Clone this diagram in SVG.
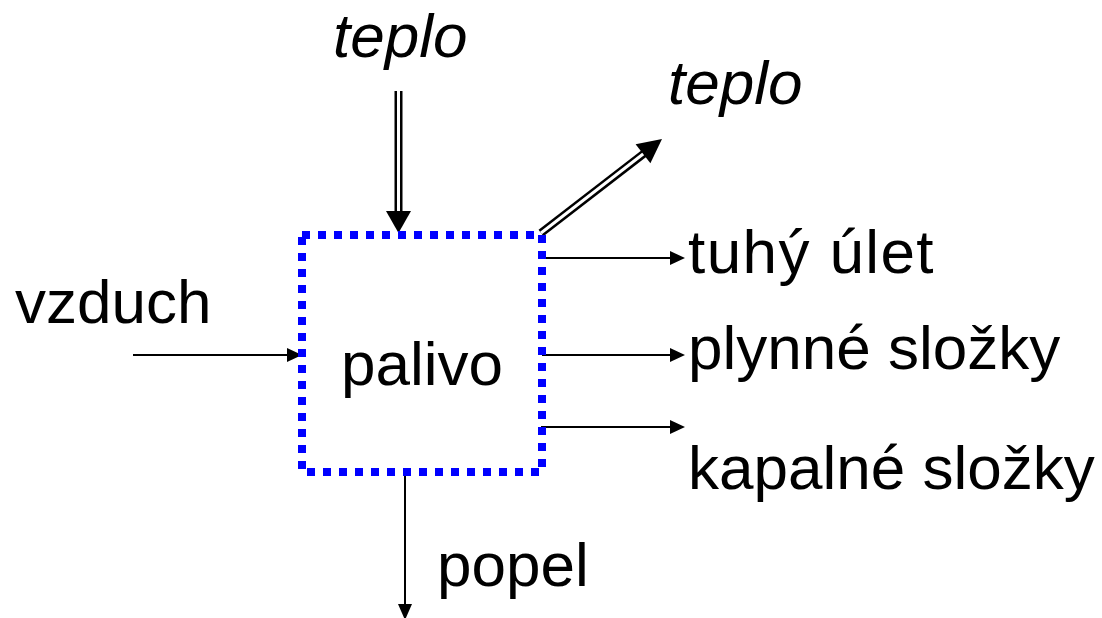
<svg xmlns="http://www.w3.org/2000/svg" width="1102" height="618" viewBox="0 0 1102 618">
<style>
text{font-family:"Liberation Sans",Arial,sans-serif;font-size:62px;fill:#000}
.it{font-style:italic}
.thin{stroke:#000;stroke-width:2;fill:none}
.dblo{stroke:#000;stroke-width:8;fill:none}
.dbli{stroke:#fff;stroke-width:3;fill:none}
.head{fill:#000}
</style>
<rect width="1102" height="618" fill="#fff"/>
<g id="connectors">
  <line class="dblo" x1="398.5" y1="91" x2="398.5" y2="213"/>
  <line class="dbli" x1="398.5" y1="91" x2="398.5" y2="214"/>
  <polygon class="head" points="386,211 411,211 398.5,233"/>
  <line class="dblo" x1="541" y1="233" x2="646" y2="152"/>
  <line class="dbli" x1="541" y1="233" x2="647" y2="151"/>
  <polygon class="head" points="635.6,144.2 650.4,163.2 662,139"/>
  <line class="thin" x1="133" y1="355" x2="290" y2="355"/>
  <polygon class="head" points="287,348 287,362 302,355"/>
  <line class="thin" x1="542" y1="258" x2="672" y2="258"/>
  <polygon class="head" points="670,251 670,265 685,258"/>
  <line class="thin" x1="542" y1="355" x2="672" y2="355"/>
  <polygon class="head" points="670,348 670,362 685,355"/>
  <line class="thin" x1="541" y1="427" x2="672" y2="427"/>
  <polygon class="head" points="670,420 670,434 685,427"/>
  <line class="thin" x1="405" y1="476" x2="405" y2="606"/>
  <polygon class="head" points="398,604 412,604 405,620"/>
</g>
<g id="palivo">
  <rect x="302" y="235" width="240" height="237" fill="none" stroke="#0000ff" stroke-width="8" stroke-dasharray="8 8"/>
  <text x="341" y="385">palivo</text>
</g>
<g id="teplo-in"><text class="it" x="333" y="57">teplo</text></g>
<g id="teplo-out"><text class="it" x="668" y="104">teplo</text></g>
<g id="vzduch"><text x="15" y="323">vzduch</text></g>
<g id="tuhy-ulet"><text x="688" y="273" letter-spacing="1.4">tuhý úlet</text></g>
<g id="plynne"><text x="688" y="369">plynné složky</text></g>
<g id="kapalne"><text x="688" y="489">kapalné složky</text></g>
<g id="popel"><text x="437" y="586">popel</text></g>
</svg>
